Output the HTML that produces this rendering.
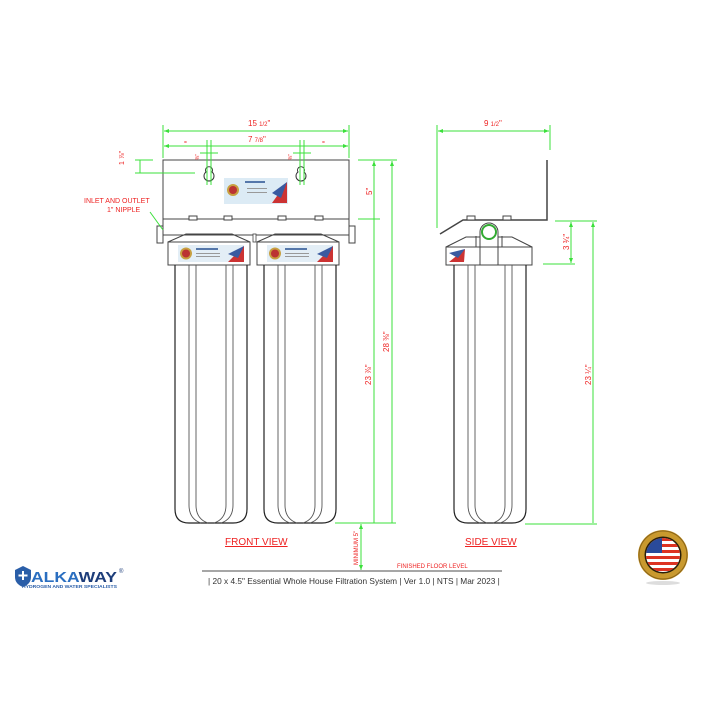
<!DOCTYPE html>
<html><head><meta charset="utf-8"><style>
html,body{margin:0;padding:0;background:#fff;}
svg{display:block;}
text{font-family:"Liberation Sans",sans-serif;}
</style></head><body>
<svg width="702" height="702" viewBox="0 0 702 702" xmlns="http://www.w3.org/2000/svg">
<rect width="702" height="702" fill="#fff"/>
<defs>
<marker id="a" viewBox="0 0 10 10" refX="10" refY="5" markerWidth="5" markerHeight="5" orient="auto-start-reverse"><path d="M0,1 L10,5 L0,9z" fill="#3be03b"/></marker>
<g id="head">
  <path d="M0,8 L18,0 L64,0 L82,8" fill="none" stroke="#444" stroke-width="1"/>
  <rect x="0" y="8" width="82" height="23" fill="#fff" stroke="#444"/>
  <rect x="10" y="11" width="66" height="17" fill="#e3eef6"/>
  <circle cx="18" cy="19.5" r="6" fill="#c8a040"/><circle cx="18" cy="19.5" r="4" fill="#b33"/>
  <path d="M60,28 L76,12 L76,28z" fill="#c33"/><path d="M60,20 L76,12 L70,24z" fill="#3a5aa0"/>
  <rect x="28" y="14" width="22" height="2" fill="#57a"/><rect x="28" y="19" width="24" height="1" fill="#999"/><rect x="28" y="22" width="24" height="1" fill="#999"/>
</g>
<g id="house" fill="none" stroke="#222" stroke-width="1.2">
  <path d="M0,0 L0,244 Q0,258 14,258 L58,258 Q72,258 72,244 L72,0"/>
  <path d="M14,0 L14,240 Q14,254 26,258 M21,0 L21,240 Q21,254 33,258 M58,0 L58,240 Q58,254 46,258 M51,0 L51,240 Q51,254 39,258" stroke="#555" stroke-width="0.9"/>
</g>
</defs>

<!-- FRONT VIEW bracket -->
<rect x="163" y="160" width="186" height="59" fill="#fff" stroke="#444"/>
<rect x="163" y="219" width="186" height="16" fill="#fff" stroke="#444"/>
<rect x="157" y="226" width="6" height="17" fill="#fff" stroke="#444"/>
<rect x="349" y="226" width="6" height="17" fill="#fff" stroke="#444"/>
<g fill="#fff" stroke="#444"><rect x="189" y="216" width="8" height="4"/><rect x="224" y="216" width="8" height="4"/><rect x="278" y="216" width="8" height="4"/><rect x="315" y="216" width="8" height="4"/></g>
<g fill="#fff" stroke="#333"><path d="M206,172 a3.5,3.5 0 1 1 6,0 a5,5 0 1 1 -6,0z"/><path d="M298,172 a3.5,3.5 0 1 1 6,0 a5,5 0 1 1 -6,0z"/></g>
<rect x="224" y="178" width="64" height="26" fill="#dcebf5"/>
<circle cx="233" cy="190" r="6" fill="#c8a040"/><circle cx="233" cy="190" r="4" fill="#b33"/>
<path d="M272,203 L287,182 L287,203z" fill="#c33"/><path d="M272,193 L287,182 L281,198z" fill="#3a5aa0"/>
<rect x="245" y="181" width="20" height="2" fill="#57a"/>
<rect x="247" y="188" width="20" height="1" fill="#999"/><rect x="247" y="192" width="20" height="1" fill="#999"/>
<use href="#head" x="168" y="234"/>
<use href="#head" x="257" y="234"/>
<rect x="253" y="234" width="3" height="8" fill="#fff" stroke="#444" stroke-width="0.8"/>
<use href="#house" x="175" y="265"/>
<use href="#house" x="264" y="265"/>

<!-- SIDE VIEW -->
<path d="M547,160 L547,220 L463,220 L440,234" fill="none" stroke="#444" stroke-width="1.5"/>
<g fill="#fff" stroke="#444"><rect x="467" y="216" width="8" height="4"/><rect x="503" y="216" width="8" height="4"/></g>
<path d="M446,247 L466,237 L512,237 L532,247" fill="none" stroke="#444"/>
<path d="M476,236 L476,247 M502,236 L502,247" stroke="#444"/>
<path d="M480,247 L480,232 a9,9 0 0 1 18,0 L498,247z" fill="#fff" stroke="#444"/>
<circle cx="489" cy="232" r="7" fill="#fff" stroke="#3a3" stroke-width="2"/>
<rect x="446" y="247" width="86" height="18" fill="#fff" stroke="#444"/>
<path d="M480,247 L480,265 M498,247 L498,265" stroke="#444"/>
<path d="M449,262 L465,249 L464,262z" fill="#c33"/><path d="M449,253 L465,249 L458,258z" fill="#3a5aa0"/>
<use href="#house" x="454" y="265"/>

<!-- DIMENSIONS -->
<g stroke="#3be03b" stroke-width="1" fill="none">
<line x1="163" y1="125" x2="163" y2="158"/><line x1="349" y1="125" x2="349" y2="158"/>
<line x1="164" y1="131" x2="348" y2="131" marker-start="url(#a)" marker-end="url(#a)"/>
<line x1="164" y1="146" x2="348" y2="146" marker-start="url(#a)" marker-end="url(#a)"/>
<line x1="207" y1="140" x2="207" y2="185"/><line x1="211" y1="140" x2="211" y2="185"/>
<line x1="300" y1="140" x2="300" y2="185"/><line x1="304" y1="140" x2="304" y2="185"/>
<line x1="200" y1="153" x2="218" y2="153"/><line x1="293" y1="153" x2="311" y2="153"/>
<line x1="135" y1="160" x2="153" y2="160"/><line x1="135" y1="173" x2="195" y2="173"/>
<line x1="140" y1="160" x2="140" y2="173"/>
<line x1="358" y1="160" x2="397" y2="160"/><line x1="358" y1="219" x2="380" y2="219"/>
<line x1="374" y1="161" x2="374" y2="523" marker-start="url(#a)"/>
<line x1="392" y1="161" x2="392" y2="523" marker-start="url(#a)"/>
<line x1="335" y1="523" x2="396" y2="523"/>
<line x1="437" y1="125" x2="437" y2="228"/><line x1="550" y1="125" x2="550" y2="150"/>
<line x1="438" y1="131" x2="549" y2="131" marker-start="url(#a)" marker-end="url(#a)"/>
<line x1="555" y1="221" x2="597" y2="221"/><line x1="543" y1="264" x2="575" y2="264"/>
<line x1="571" y1="222" x2="571" y2="263" marker-start="url(#a)" marker-end="url(#a)"/>
<line x1="593" y1="222" x2="593" y2="523" marker-start="url(#a)"/>
<line x1="525" y1="524" x2="597" y2="524"/>
<line x1="361" y1="524" x2="361" y2="570" marker-start="url(#a)" marker-end="url(#a)"/>
<line x1="150" y1="212" x2="163" y2="230"/>
</g>
<line x1="202" y1="571" x2="502" y2="571" stroke="#888" stroke-width="1.5"/>

<g fill="#e22" font-size="8">
<text x="248" y="126">15 <tspan font-size="6">1/2</tspan>"</text>
<text x="248" y="142">7 <tspan font-size="6">7/8</tspan>"</text>
<text x="184" y="144" font-size="5">=</text><text x="322" y="144" font-size="5">=</text>
<text x="484" y="126">9 <tspan font-size="6">1/2</tspan>"</text>
<text x="84" y="203" font-size="7">INLET AND OUTLET</text>
<text x="107" y="212" font-size="7">1" NIPPLE</text>
<text x="225" y="545" font-size="10" text-decoration="underline">FRONT VIEW</text>
<text x="465" y="545" font-size="10" text-decoration="underline">SIDE VIEW</text>
<text x="397" y="568" font-size="6">FINISHED FLOOR LEVEL</text>
<text transform="translate(124,165) rotate(-90)" font-size="7">1 ⅞"</text>
<text transform="translate(199,160) rotate(-90)" font-size="5">⅜"</text>
<text transform="translate(292,160) rotate(-90)" font-size="5">⅜"</text>
<text transform="translate(372,195) rotate(-90)">5"</text>
<text transform="translate(371,385) rotate(-90)">23 ⅞"</text>
<text transform="translate(389,352) rotate(-90)">28 ⅜"</text>
<text transform="translate(569,250) rotate(-90)">3 ¾"</text>
<text transform="translate(591,385) rotate(-90)">23 ¼"</text>
<text transform="translate(358,565) rotate(-90)" font-size="6">MINIMUM 5"</text>
</g>
<text x="208" y="584" font-size="8.3" fill="#333">| 20 x 4.5" Essential Whole House Filtration System | Ver 1.0 | NTS | Mar 2023 |</text>

<!-- Logo -->
<path d="M15,570 L23,566 L31,570 L31,577 Q31,584 23,587 Q15,584 15,577z" fill="#2a5ea8"/>
<path d="M23,571 v9 M18.5,575.5 h9" stroke="#fff" stroke-width="2"/>
<text x="31" y="582" font-size="15" font-weight="bold" fill="#2a6ec0" textLength="86" lengthAdjust="spacingAndGlyphs">ALKA<tspan fill="#1d3d7a">WAY</tspan></text>
<text x="119" y="573" font-size="6" fill="#1d3d7a">®</text>
<text x="22" y="588" font-size="4.5" font-weight="bold" fill="#2a5ea8" textLength="95" lengthAdjust="spacingAndGlyphs">HYDROGEN AND WATER SPECIALISTS</text>

<!-- Badge -->
<ellipse cx="663" cy="583" rx="17" ry="2" fill="#ddd"/>
<circle cx="663" cy="555" r="25" fill="#c9992e"/>
<circle cx="663" cy="555" r="24" fill="none" stroke="#8a6418" stroke-width="1"/>
<circle cx="663" cy="555" r="18.5" fill="#2a1e08"/>
<clipPath id="c"><circle cx="663" cy="555" r="17"/></clipPath>
<g clip-path="url(#c)">
<rect x="646" y="538" width="34" height="34" fill="#fff"/>
<g fill="#d32"><rect x="646" y="538" width="34" height="3"/><rect x="646" y="544" width="34" height="3"/><rect x="646" y="550" width="34" height="3"/><rect x="646" y="556" width="34" height="3"/><rect x="646" y="562" width="34" height="3"/><rect x="646" y="568" width="34" height="3"/></g>
<rect x="646" y="538" width="16" height="15" fill="#2a4a9a"/>
</g>
</svg>
</body></html>
